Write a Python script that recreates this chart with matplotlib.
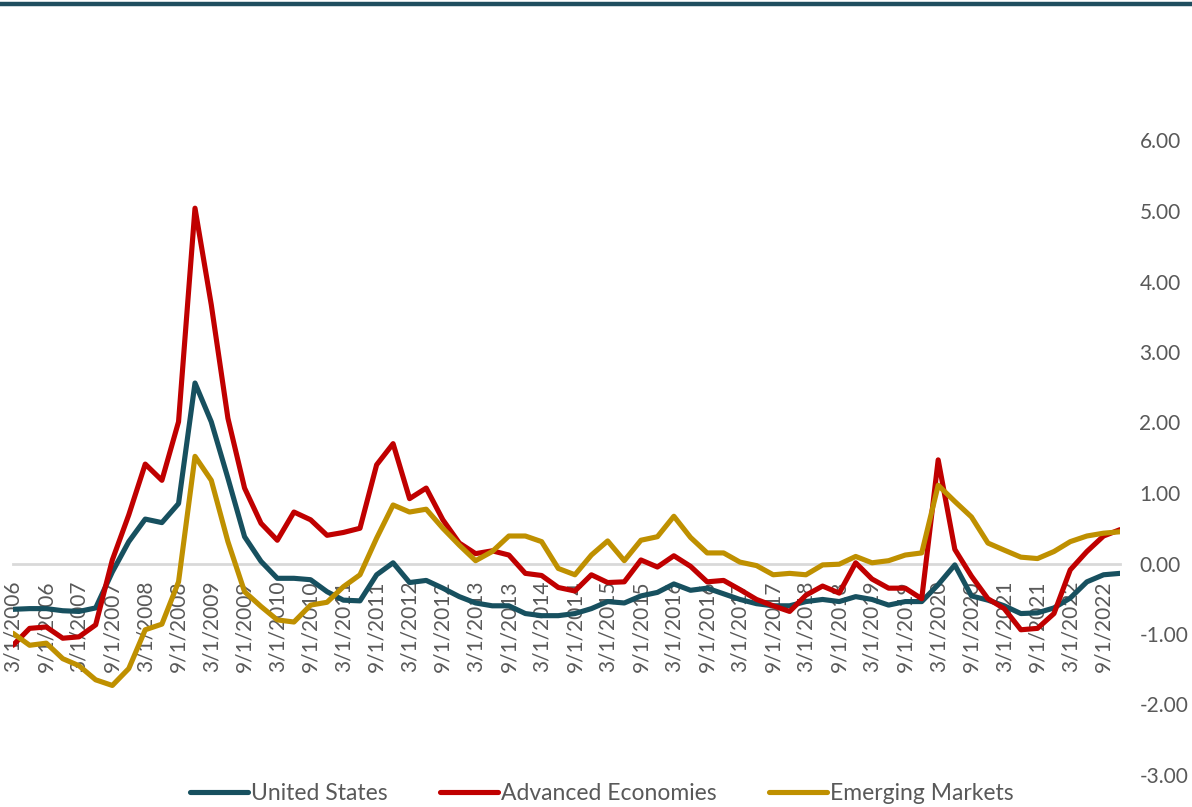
import matplotlib
matplotlib.use("Agg")
import matplotlib.pyplot as plt
import pandas as pd

dates = pd.date_range("2006-03-01", periods=68, freq="QS-MAR")

united_states = [
    -0.65, -0.64, -0.64, -0.67, -0.68, -0.63, -0.12, 0.31, 0.63, 0.58,
    0.85, 2.56, 2.01, 1.21, 0.38, 0.03, -0.21, -0.21, -0.23, -0.40,
    -0.52, -0.53, -0.16, 0.01, -0.27, -0.24, -0.35, -0.47, -0.56, -0.60,
    -0.60, -0.71, -0.74, -0.74, -0.71, -0.64, -0.54, -0.56, -0.46, -0.41,
    -0.29, -0.38, -0.35, -0.43, -0.51, -0.57, -0.60, -0.60, -0.54, -0.51,
    -0.54, -0.47, -0.51, -0.59, -0.54, -0.54, -0.30, -0.02, -0.46, -0.52,
    -0.60, -0.71, -0.70, -0.63, -0.49, -0.26, -0.16, -0.14,
]
advanced_economies = [
    -1.16, -0.92, -0.90, -1.06, -1.04, -0.87, 0.05, 0.69, 1.41, 1.18,
    2.01, 5.04, 3.67, 2.06, 1.07, 0.57, 0.33, 0.73, 0.62, 0.40,
    0.44, 0.50, 1.40, 1.70, 0.92, 1.07, 0.62, 0.29, 0.14, 0.18,
    0.12, -0.14, -0.17, -0.34, -0.39, -0.16, -0.27, -0.26, 0.05, -0.05,
    0.11, -0.04, -0.26, -0.24, -0.37, -0.51, -0.60, -0.68, -0.45, -0.32,
    -0.42, 0.01, -0.22, -0.35, -0.35, -0.50, 1.47, 0.20, -0.18, -0.50,
    -0.64, -0.94, -0.92, -0.71, -0.09, 0.17, 0.39, 0.48,
]
emerging_markets = [
    -0.99, -1.16, -1.13, -1.35, -1.45, -1.65, -1.73, -1.49, -0.94, -0.86,
    -0.26, 1.52, 1.18, 0.31, -0.40, -0.61, -0.80, -0.83, -0.59, -0.55,
    -0.33, -0.16, 0.36, 0.83, 0.73, 0.77, 0.50, 0.26, 0.04, 0.17,
    0.39, 0.39, 0.31, -0.07, -0.16, 0.12, 0.32, 0.04, 0.33, 0.38,
    0.67, 0.37, 0.15, 0.15, 0.02, -0.03, -0.16, -0.14, -0.16, -0.02,
    -0.01, 0.10, 0.01, 0.04, 0.12, 0.15, 1.11, 0.88, 0.66, 0.29,
    0.19, 0.09, 0.07, 0.17, 0.31, 0.39, 0.43, 0.45,
]
series_names = ["United States", "Advanced Economies", "Emerging Markets"]
y_ticks = [-3, -2, -1, 0, 1, 2, 3, 4, 5, 6]

colors = ["#17505F", "#C00000", "#BF9000"]
text_color = "#595959"

plt.rcParams["font.family"] = ["Lato", "DejaVu Sans"]

fig = plt.figure(figsize=(11.92, 8.07), dpi=100)
ax = fig.add_axes([13 / 1192, 1 - 775 / 807, (1120 - 13) / 1192, (775 - 140.5) / 807])

for vals, name, col in zip([united_states, advanced_economies, emerging_markets],
                           series_names, colors):
    ax.plot(dates, vals, color=col, lw=3.7, label=name,
            solid_joinstyle="round", solid_capstyle="round")

ax.set_xlim(dates[0], dates[-1])
ax.set_ylim(-3, 6)

# y axis on the right, no spine
ax.yaxis.tick_right()
ax.set_yticks(y_ticks)
ax.set_yticklabels([f"{v:.2f}" for v in y_ticks])
ax.tick_params(axis="y", length=0, pad=14, labelsize=15, labelcolor=text_color)

# x axis crossing at zero
ax.spines["bottom"].set_position(("data", 0))
ax.spines["bottom"].set_color("#D9D9D9")
ax.spines["bottom"].set_linewidth(2)
ax.spines["bottom"].set_zorder(0)
for s in ["top", "left", "right"]:
    ax.spines[s].set_visible(False)

tick_dates = dates[::2]
ax.set_xticks(tick_dates)
ax.set_xticklabels([f"{d.month}/{d.day}/{d.year}" for d in tick_dates],
                   rotation=90, fontsize=15, color=text_color)
ax.tick_params(axis="x", length=0, pad=12)

fig.legend(loc="center", bbox_to_anchor=(0.505, 1 - 794 / 807), ncol=3,
           frameon=False, fontsize=16.5, labelcolor=text_color,
           handlelength=2.5, handletextpad=0.15, columnspacing=2.3)

# dark rule across the top of the figure
fig.add_artist(plt.Line2D([0, 1], [1 - 4 / 807, 1 - 4 / 807], color="#1F4E5F",
                          lw=3.2, transform=fig.transFigure))

fig.savefig("out.png", dpi=100, facecolor="white")
